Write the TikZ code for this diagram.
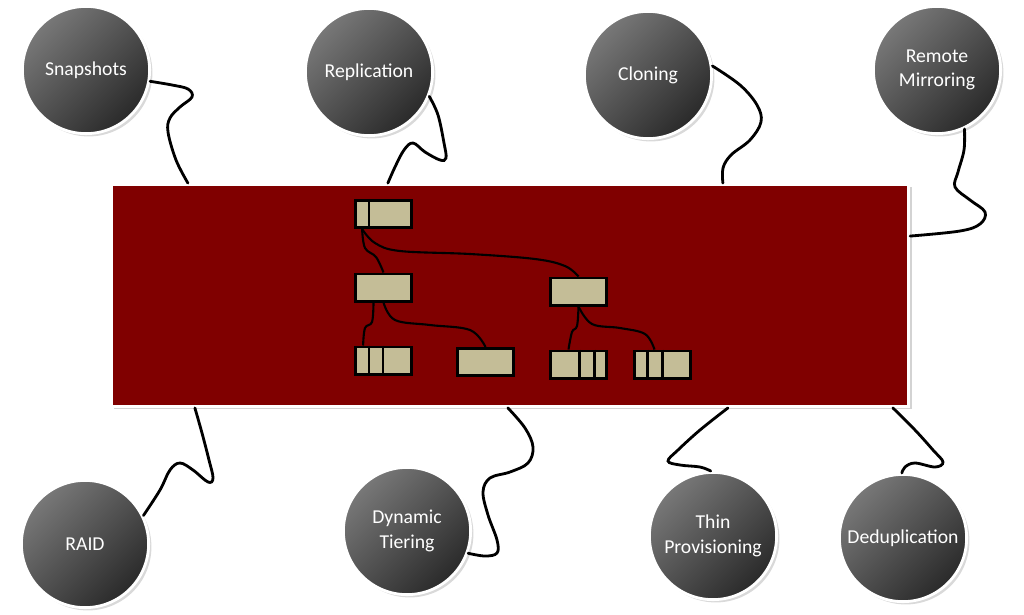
\documentclass[tikz,border=0pt]{standalone}
\usepackage{fontspec}
\setmainfont{Carlito}
\usetikzlibrary{shadows,calc}
\definecolor{StoreRed}{RGB}{128,0,0}
\definecolor{DiskTan}{RGB}{196,189,151}
\definecolor{CircLight}{RGB}{120,120,120}
\definecolor{CircDark}{RGB}{42,42,42}

\begin{document}
\begin{tikzpicture}[
    x=0.025cm, y=-0.025cm,
    feature/.style={circle, draw=white, line width=2pt, minimum size=3.18cm, inner sep=0pt, top color=CircLight, bottom color=CircDark, shading angle=45, text=white, align=center, font=\fontsize{14}{17.5}\selectfont, drop shadow={shadow xshift=2pt, shadow yshift=-2pt, opacity=0.3}},
    store/.style={rectangle, draw=white, line width=2pt, fill=StoreRed, minimum width=19.93cm, minimum height=5.55cm, inner sep=0pt, drop shadow={shadow xshift=2pt, shadow yshift=-2pt, opacity=0.35}},
    disk/.style={rectangle, draw=black, line width=2pt, fill=DiskTan, minimum width=1.4cm, minimum height=0.68cm, inner sep=0pt},
    wire/.style={line width=2pt, line cap=round},
    link/.style={line width=1.5pt}
  ]
    \useasboundingbox (0,0) rectangle (1024,614);

    % the array
    \node[store] (store) at (510,295.5) {};

    % features
    \node[feature] (snap) at (86,70) {Snapshots};
    \node[feature] (repl) at (369,72) {Replication};
    \node[feature] (clon) at (648,75) {Cloning};
    \node[feature] (mirr) at (937,70) {Remote\\Mirroring};
    \node[feature] (raid) at (85,544) {RAID};
    \node[feature] (tier) at (407,531) {Dynamic\\Tiering};
    \node[feature] (thin) at (713,536) {Thin\\Provisioning};
    \node[feature] (dedup) at (903,538) {Deduplication};

    % where the cords meet the array
    \coordinate (eSnap) at ($(store.north west)+(78,0)$);
    \coordinate (eRepl) at ($(store.north west)+(278,0)$);
    \coordinate (eClon) at ($(store.north west)+(613,0)$);
    \coordinate (eMirr) at ($(store.north east)+(0,53)$);
    \coordinate (eRaid) at ($(store.south west)+(85,0)$);
    \coordinate (eTier) at ($(store.south west)+(398,0)$);
    \coordinate (eThin) at ($(store.south west)+(618,0)$);
    \coordinate (eDedup) at ($(store.south west)+(783,0)$);

    \draw[wire] plot[smooth, tension=0.6] coordinates {(snap.-10) (172,85) (188,89) (192,97) (180,107) (170,118) (168,132) (176,160) (eSnap)};
    \draw[wire] plot[smooth, tension=0.6] coordinates {(repl.-22) (438,115) (444,143) (446,158) (440,160) (425,152) (413,143) (404,150) (395,167) (eRepl)};
    \draw[wire] plot[smooth, tension=0.6] coordinates {(clon.8) (740,85) (757,105) (761,122) (750,140) (731,155) (723,168) (eClon)};
    \draw[wire] plot[smooth, tension=0.6] coordinates {(mirr.-65) (964,150) (958,172) (955,187) (970,200) (985,212) (980,224) (960,231) (eMirr)};
    \draw[wire] plot[smooth, tension=0.6] coordinates {(eRaid) (202,433) (209,460) (213,478) (208,482) (193,470) (180,463) (170,470) (160,490) (raid.26)};
    \draw[wire] plot[smooth, tension=0.6] coordinates {(eTier) (525,428) (533,447) (528,463) (510,472) (490,478) (483,492) (488,515) (497,540) (497,553) (485,556) (tier.-20)};
    \draw[wire] plot[smooth, tension=0.6] coordinates {(eThin) (700,430) (678,450) (668,461) (680,465) (700,467) (thin.92)};
    \draw[wire] plot[smooth, tension=0.6] coordinates {(eDedup) (915,430) (933,450) (943,462) (935,467) (915,463) (905,467) (dedup.91)};

    % volume tree
    \node[disk] (bA) at (383.5,214) {};
    \node[disk] (bB) at (383.5,287.5) {};
    \node[disk] (bC) at (578.5,291.5) {};
    \node[disk] (bD) at (383.5,360.5) {};
    \node[disk] (bE) at (485.5,362) {};
    \node[disk] (bF) at (578.5,364.5) {};
    \node[disk] (bG) at (662.5,364.5) {};

    \foreach \b/\dx in {bA/15, bD/15, bD/29, bF/30, bF/45, bG/14, bG/29}
      \draw[line width=2pt] ($(\b.north west)+(\dx,0)$) -- ($(\b.south west)+(\dx,0)$);

    \draw[link] plot[smooth, tension=0.6] coordinates {($(bA.south west)+(8,0)$) (365,248) (376,257) (bB.north)};
    \draw[link] plot[smooth, tension=0.6] coordinates {($(bA.south west)+(8,0)$) (375,243) (400,251) (470,254) (535,259) (565,266) (bC.north)};
    \draw[link] plot[smooth, tension=0.6] coordinates {($(bB.south)+(-10,0)$) (372,322) (365,328) ($(bD.north west)+(9,0)$)};
    \draw[link] plot[smooth, tension=0.6] coordinates {(bB.south) (395,320) (430,325) (470,330) (bE.north)};
    \draw[link] plot[smooth, tension=0.6] coordinates {(bC.south) (577,326) (572,332) ($(bF.north)+(-10,0)$)};
    \draw[link] plot[smooth, tension=0.6] coordinates {(bC.south) (592,324) (620,328) (645,334) ($(bG.north)+(-8,0)$)};
  \end{tikzpicture}
\end{document}
